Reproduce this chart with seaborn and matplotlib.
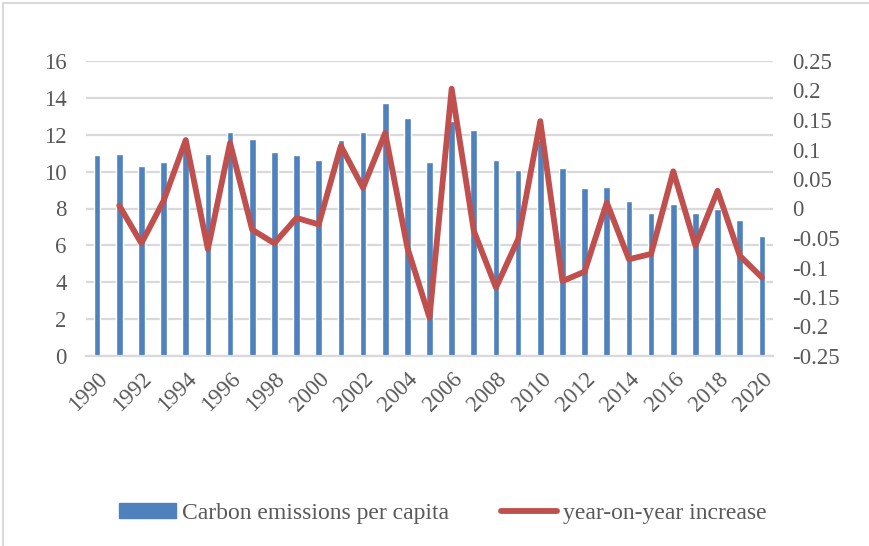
import matplotlib
matplotlib.use("Agg")
import matplotlib.pyplot as plt
from matplotlib.lines import Line2D
from matplotlib.patches import Patch
import seaborn as sns
import pandas as pd

years = list(range(1990, 2021))
emissions_per_capita = [
    10.9, 10.96, 10.33, 10.52, 11.7, 10.96, 12.17, 11.78, 11.09, 10.9,
    10.62, 11.74, 12.17, 13.73, 12.92, 10.54, 12.72, 12.28, 10.63, 10.1,
    11.7, 10.2, 9.09, 9.18, 8.4, 7.77, 8.26, 7.77, 8.0, 7.37, 6.52,
]
growth_years = years[1:]
yoy_increase = [
    0.005, -0.059, 0.013, 0.116, -0.069, 0.111, -0.036, -0.059, -0.016, -0.027,
    0.106, 0.035, 0.128, -0.066, -0.185, 0.203, -0.038, -0.134, -0.052, 0.148,
    -0.123, -0.107, 0.010, -0.086, -0.077, 0.063, -0.063, 0.030, -0.080, -0.117,
]
left_ticks = [0, 2, 4, 6, 8, 10, 12, 14, 16]
right_ticks = [-0.25, -0.2, -0.15, -0.1, -0.05, 0, 0.05, 0.1, 0.15, 0.2, 0.25]
right_labels = ["-0.25", "-0.2", "-0.15", "-0.1", "-0.05", "0", "0.05", "0.1", "0.15", "0.2", "0.25"]
year_ticks = years[::2]

bar_label = "Carbon emissions per capita"
line_label = "year-on-year increase"
blue = "#4F81BD"
red = "#C0504D"
text_grey = "#595959"
grid_grey = "#D9D9D9"

sns.set_theme(style="white")
plt.rcParams["font.family"] = ["Liberation Serif", "DejaVu Serif"]

bars_df = pd.DataFrame({"year": years, "value": emissions_per_capita})
line_df = pd.DataFrame({"year": growth_years, "value": yoy_increase})

fig = plt.figure(figsize=(8.69, 5.46), dpi=100)
ax = fig.add_axes([86 / 869, 1 - 356 / 546, (773 - 86) / 869, (356 - 61) / 546])

sns.barplot(data=bars_df, x="year", y="value", native_scale=True,
            color=blue, saturation=1, width=0.3, ax=ax, zorder=2)
ax.set_xlim(1989.5, 2020.5)
ax.set_ylim(0, 16)
ax.set_yticks(left_ticks)
ax.set_xticks(year_ticks)
ax.set_xticklabels([str(y) for y in year_ticks], rotation=45, ha="right",
                   rotation_mode="anchor")
ax.yaxis.grid(True, color=grid_grey, linewidth=1.6, zorder=0)
ax.set_axisbelow(True)
ax.set_xlabel("")
ax.set_ylabel("")
for s in ["top", "right", "left"]:
    ax.spines[s].set_visible(False)
ax.spines["bottom"].set_color(grid_grey)
ax.spines["bottom"].set_linewidth(1.6)
ax.tick_params(axis="both", length=0, labelsize=16.5, labelcolor=text_grey)
ax.tick_params(axis="y", pad=14)
ax.tick_params(axis="x", pad=9)

ax2 = ax.twinx()
sns.lineplot(data=line_df, x="year", y="value", color=red, linewidth=4.2,
             ax=ax2, solid_capstyle="round", solid_joinstyle="round")
ax2.set_ylim(-0.25, 0.25)
ax2.set_yticks(right_ticks)
ax2.set_yticklabels(right_labels)
ax2.set_xlim(1989.5, 2020.5)
ax2.set_xlabel("")
ax2.set_ylabel("")
for s in ["top", "right", "left", "bottom"]:
    ax2.spines[s].set_visible(False)
ax2.tick_params(axis="y", length=0, labelsize=16.5, labelcolor=text_grey, pad=14)
ax2.grid(False)

handles = [
    Patch(facecolor=blue, edgecolor=blue),
    Line2D([0], [0], color=red, linewidth=4.2, solid_capstyle="round"),
]
leg = fig.legend(handles, [bar_label, line_label], loc="center",
                 bbox_to_anchor=(443 / 869, 1 - 513 / 546), ncol=2, frameon=False,
                 fontsize=17, handlelength=2.4, handleheight=0.6,
                 handletextpad=0.25, columnspacing=2.2)
for t in leg.get_texts():
    t.set_color(text_grey)

# light frame around the chart area
fig.add_artist(Line2D([2.5 / 869, 2.5 / 869], [0, 1 - 3 / 546],
                      transform=fig.transFigure, color=grid_grey, linewidth=1.5))
fig.add_artist(Line2D([2.5 / 869, 1], [1 - 3 / 546, 1 - 3 / 546],
                      transform=fig.transFigure, color=grid_grey, linewidth=1.5))

fig.savefig("out.png", dpi=100)
